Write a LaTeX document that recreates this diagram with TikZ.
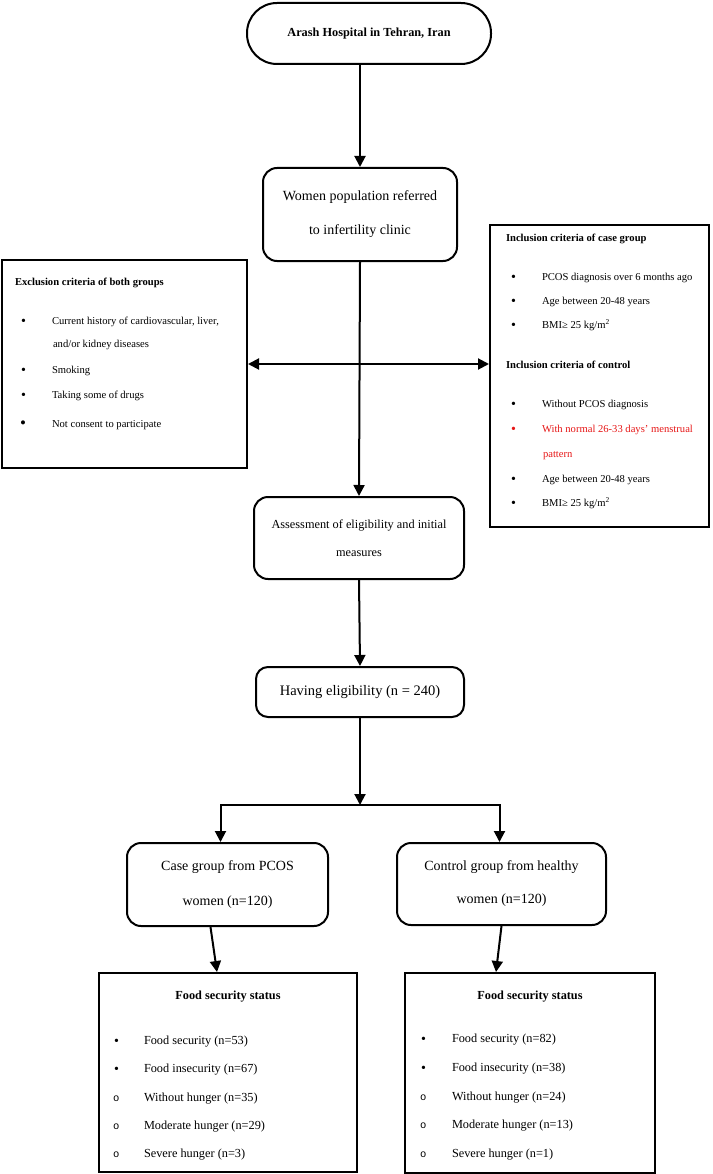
\documentclass[tikz,border=0pt]{standalone}
\usepackage{fontspec}
\setmainfont{Liberation Serif}
\newfontfamily\circfont{Liberation Mono}
\usetikzlibrary{arrows.meta}
\definecolor{critred}{RGB}{230,22,22}
\newcommand{\itembul}[1][31pt]{\makebox[#1][l]{\raisebox{-1.1pt}{\fontsize{14}{14}\selectfont\textbullet}}}
\newcommand{\itemcirc}[1][30pt]{\makebox[#1][l]{\circfont\fontsize{10.5}{9}\selectfont o}}

\begin{document}
\begin{tikzpicture}[x=1pt, y=-1pt, line width=2pt,
  arr/.style={-{Triangle[length=11pt,width=11pt]}},
  procbox/.style={draw, rounded corners=14pt, align=center, inner sep=0pt},
  listbox/.style={draw, rectangle, inner sep=0pt},
  sidetxt/.style={anchor=base west, inner sep=0pt, font=\fontsize{10.6}{12}\selectfont},
  foodtxt/.style={anchor=base west, inner sep=0pt, font=\fontsize{12.3}{14}\selectfont}]
  \useasboundingbox (0,0) rectangle (712,1174);
  % main column
  \node[procbox, rounded corners=30pt, minimum width=244pt, minimum height=61pt,
        font=\fontsize{12.3}{14}\selectfont\bfseries] (hosp) at (369,33.5) {Arash Hospital in Tehran, Iran};
  \node[procbox, minimum width=194pt, minimum height=93pt,
        font=\fontsize{14}{17}\selectfont] (women) at (360,214.5) {Women population referred\\[17pt]to infertility clinic};
  \node[procbox, minimum width=210pt, minimum height=82pt,
        font=\fontsize{12.3}{15}\selectfont] (assess) at (359,538) {Assessment of eligibility and initial\\[13pt]measures};
  \node[procbox, rounded corners=12pt, minimum width=208pt, minimum height=50pt,
        font=\fontsize{14.5}{17}\selectfont] (elig) at (360,692) {Having eligibility (n = 240)};
  \node[procbox, minimum width=201pt, minimum height=83pt,
        font=\fontsize{14}{17}\selectfont] (case) at (227.5,884.5) {Case group from PCOS\\[18pt]women (n=120)};
  \node[procbox, minimum width=209pt, minimum height=82pt,
        font=\fontsize{14}{17}\selectfont] (ctrl) at (501.5,884) {Control group from healthy\\[16pt]women (n=120)};
  \coordinate (split) at (356,805);

  % criteria boxes
  \node[listbox, minimum width=245pt, minimum height=208pt] (excl) at (124.5,364) {};
  \node[sidetxt, font=\fontsize{10.6}{12}\selectfont\bfseries] (exhead) at (14,285) {Exclusion criteria of both groups};
  \node[sidetxt] (ex1) at (20,324) {\itembul Current history of cardiovascular, liver,};
  \node[sidetxt] (ex1b) at (52,347) {and/or kidney diseases};
  \node[sidetxt] (ex2) at (20,373) {\itembul Smoking};
  \node[sidetxt] (ex3) at (20,398) {\itembul Taking some of drugs};
  \node[sidetxt] (ex4) at (19,427) {\makebox[32pt][l]{\raisebox{-1.8pt}{\fontsize{17}{17}\selectfont\textbullet}}Not consent to participate};

  \node[listbox, minimum width=219pt, minimum height=302pt] (incl) at (599.5,376) {};
  \node[sidetxt, font=\fontsize{10.6}{12}\selectfont\bfseries] (inhead) at (505,241) {Inclusion criteria of case group};
  \node[sidetxt] (in1) at (510,280) {\itembul PCOS diagnosis over 6 months ago};
  \node[sidetxt] (in2) at (510,304) {\itembul Age between 20-48 years};
  \node[sidetxt] (in3) at (510,328) {\itembul BMI≥ 25 kg/m\textsuperscript{2}};
  \node[sidetxt, font=\fontsize{10.6}{12}\selectfont\bfseries] (cohead) at (505,368) {Inclusion criteria of control};
  \node[sidetxt] (co1) at (510,407) {\itembul Without PCOS diagnosis};
  \node[sidetxt, text=critred] (co2) at (510,432) {\itembul With normal 26-33 days' menstrual};
  \node[sidetxt, text=critred] (co2b) at (542,457) {pattern};
  \node[sidetxt] (co3) at (510,482) {\itembul Age between 20-48 years};
  \node[sidetxt] (co4) at (510,506) {\itembul BMI≥ 25 kg/m\textsuperscript{2}};

  % food security boxes
  \node[listbox, minimum width=258pt, minimum height=199pt] (foodA) at (228,1072.5) {};
  \node[inner sep=0pt, anchor=base, font=\fontsize{12.3}{14}\selectfont\bfseries] (fahead) at (228,999) {Food security status};
  \node[foodtxt] (fa1) at (113,1044) {\itembul[30pt]Food security (n=53)};
  \node[foodtxt] (fa2) at (113,1072) {\itembul[30pt]Food insecurity (n=67)};
  \node[foodtxt] (fa3) at (112,1101) {\itemcirc[31pt]Without hunger (n=35)};
  \node[foodtxt] (fa4) at (112,1129) {\itemcirc[31pt]Moderate hunger (n=29)};
  \node[foodtxt] (fa5) at (112,1157) {\itemcirc[31pt]Severe hunger (n=3)};

  \node[listbox, minimum width=250pt, minimum height=200pt] (foodB) at (530,1073) {};
  \node[inner sep=0pt, anchor=base, font=\fontsize{12.3}{14}\selectfont\bfseries] (fbhead) at (530,999) {Food security status};
  \node[foodtxt] (fb1) at (420,1042) {\itembul[31pt]Food security (n=82)};
  \node[foodtxt] (fb2) at (420,1071) {\itembul[31pt]Food insecurity (n=38)};
  \node[foodtxt] (fb3) at (419,1100) {\itemcirc[32pt]Without hunger (n=24)};
  \node[foodtxt] (fb4) at (419,1128) {\itemcirc[32pt]Moderate hunger (n=13)};
  \node[foodtxt] (fb5) at (419,1157) {\itemcirc[32pt]Severe hunger (n=1)};

  % connectors
  \draw[arr] (hosp.south -| women.north) -- (women.north);
  \draw[arr] (women.south) -- (assess.north);
  \draw[{Triangle[length=11pt,width=11pt]}-{Triangle[length=11pt,width=11pt]}] (excl.east) -- (excl.east -| incl.west);
  \draw[arr] (assess.south) -- (elig.north);
  \draw[arr] (elig.south) -- (elig.south |- split);
  \draw[arr] (split) -| ([xshift=-7pt]case.north);
  \draw[arr] (split) -| ([xshift=-2pt]ctrl.north);
  \draw[arr] ([xshift=-17pt]case.south) -- ([xshift=-11pt]foodA.north);
  \draw[arr] (ctrl.south) -- ([xshift=-34pt]foodB.north);
\end{tikzpicture}
\end{document}
